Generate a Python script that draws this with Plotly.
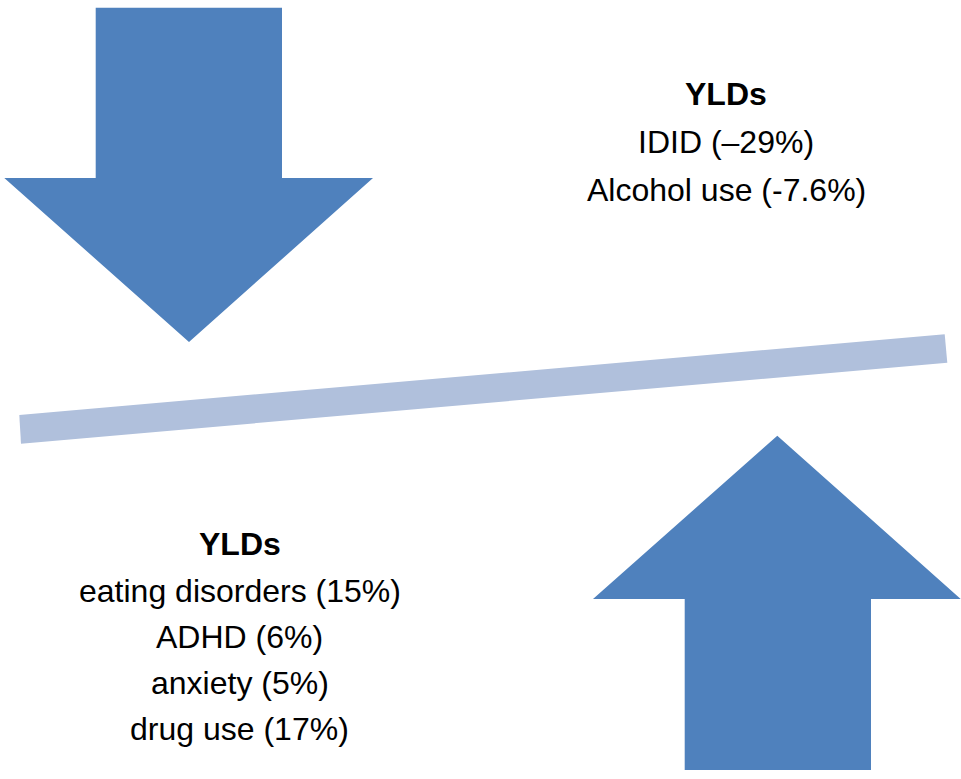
import plotly.graph_objects as go

# Text content
top_title = "YLDs"
top_items = ["IDID (–29%)", "Alcohol use (-7.6%)"]
bottom_title = "YLDs"
bottom_items = ["eating disorders (15%)", "ADHD (6%)", "anxiety (5%)", "drug use (17%)"]

W, H = 961, 779
ARROW = "#4F81BD"
BAR = "#B0C0DC"
FONT = "Liberation Sans, Arial, sans-serif"

# Geometry (pixel space)
down_x = [95.7, 282, 282, 373, 189, 4.3, 95.7, 95.7]
down_y = [7.7, 7.7, 178, 178, 342, 178, 178, 7.7]
up_x = [777.3, 960.7, 871, 871, 684.7, 684.7, 593, 777.3]
up_y = [435.7, 599, 599, 770, 770, 599, 599, 435.7]
bar_x = [19.3, 944.7, 947.3, 21, 19.3]
bar_y = [415, 334.3, 362.7, 443.7, 415]

fig = go.Figure()
for xs, ys, col in [(bar_x, bar_y, BAR), (down_x, down_y, ARROW), (up_x, up_y, ARROW)]:
    fig.add_trace(go.Scatter(x=xs, y=ys, mode="lines", fill="toself",
                             fillcolor=col, line=dict(width=0, color=col),
                             hoverinfo="skip", showlegend=False))

def block(cx, ys, title, items):
    ann = [dict(x=cx, y=ys[0], text="<b>" + title + "</b>")]
    for y, t in zip(ys[1:], items):
        ann.append(dict(x=cx, y=y, text=t))
    for a in ann:
        a.update(xref="x", yref="y", showarrow=False, xanchor="center", yanchor="middle",
                 font=dict(family=FONT, size=32, color="#000000"))
    return ann

annotations = block(726, [94, 142, 190], top_title, top_items) + \
    block(239.5, [544, 591, 637, 683, 729], bottom_title, bottom_items)

fig.update_layout(
    width=W, height=H, margin=dict(l=0, r=0, t=0, b=0),
    paper_bgcolor="white", plot_bgcolor="white",
    xaxis=dict(range=[0, W], visible=False, fixedrange=True),
    yaxis=dict(range=[H, 0], visible=False, fixedrange=True),
    annotations=annotations,
)
fig.write_html("out.html", config={"displayModeBar": False},
               post_script="document.body.style.margin='0';document.body.style.overflow='hidden';")
